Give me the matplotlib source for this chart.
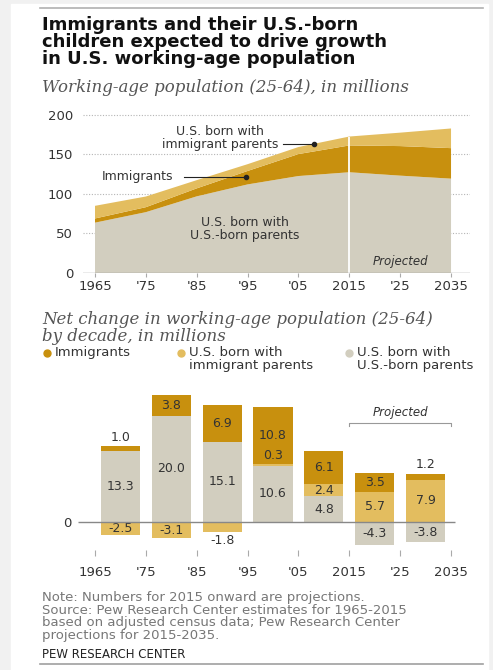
import matplotlib.pyplot as plt
from matplotlib.patches import Rectangle

# working-age population (25-64), millions
years = [1965, 1975, 1985, 1995, 2005, 2015, 2025, 2035]
us_born_parents = [63.7, 77.0, 97.0, 112.1, 122.7, 127.5, 123.2, 119.4]
immigrants = [5.3, 6.3, 10.1, 17.0, 27.8, 33.9, 37.4, 38.6]
immigrant_parents = [16.0, 13.5, 10.4, 8.6, 8.9, 11.3, 17.0, 24.9]

# net change by decade
decades = [1970, 1980, 1990, 2000, 2010, 2020, 2030]
chg_imm = [1.0, 3.8, 6.9, 10.8, 6.1, 3.5, 1.2]
chg_2nd = [-2.5, -3.1, -1.8, 0.3, 2.4, 5.7, 7.9]
chg_3rd = [13.3, 20.0, 15.1, 10.6, 4.8, -4.3, -3.8]

tick_years = [1965, 1975, 1985, 1995, 2005, 2015, 2025, 2035]
tick_labels = ['1965', "'75", "'85", "'95", "'05", '2015', "'25", '2035']

c_imm = '#c8900e'
c_2nd = '#e3bd5f'
c_3rd = '#d2cebf'
txt = '#333333'

W, H = 493, 670
fig = plt.figure(figsize=(W / 100, H / 100), dpi=100, facecolor='#f1f1f1')
plt.rcParams['font.family'] = ['DejaVu Sans']


def box(l, t, r, b):
    return [l / W, 1 - b / H, (r - l) / W, (b - t) / H]


# white card
ov = fig.add_axes([0, 0, 1, 1], zorder=-1)
ov.set_xlim(0, W)
ov.set_ylim(H, 0)
ov.axis('off')
ov.add_patch(Rectangle((11, 4), 477, 670, color='white'))
ov.plot([40, 483], [7.5, 7.5], color='#b0b0b0', lw=1.2)
ov.plot([40, 483], [664, 664], color='#a0a0a0', lw=1.2)

# titles
fig.text(42 / W, 1 - 16 / H, 'Immigrants and their U.S.-born\nchildren expected to drive growth\nin U.S. working-age population',
         fontsize=13, fontweight='bold', color='#111111', va='top', ha='left', linespacing=0.93)
fig.text(42 / W, 1 - 87 / H, 'Working-age population (25-64), in millions', fontsize=12,
         family='DejaVu Serif', style='italic', color='#555555', va='center')

# ---- top area chart ----
ax = fig.add_axes(box(83, 111, 470, 273))
ax.stackplot(years, us_born_parents, immigrants, immigrant_parents,
             colors=[c_3rd, c_imm, c_2nd], lw=0, zorder=2)
tot_2015 = us_born_parents[5] + immigrants[5] + immigrant_parents[5]
ax.vlines(2015, 0, tot_2015, color='white', lw=1.3, zorder=3)
ax.set_xlim(1962.64, 2038.73)
ax.set_ylim(0, 205)
for g in [50, 100, 150, 200]:
    ax.axhline(g, color='#b5b5b5', lw=0.8, ls=(0, (1, 1.5)), zorder=1)
ax.axhline(0, color='#999999', lw=1, zorder=4)
for s in ax.spines.values():
    s.set_visible(False)
ax.set_yticks([0, 50, 100, 150, 200])
ax.tick_params(axis='y', length=0, pad=7, labelsize=9.5, labelcolor=txt)
ax.set_xticks(tick_years)
ax.set_xticklabels(tick_labels)
ax.tick_params(axis='x', length=3, color='#aaaaaa', pad=2, labelsize=9.5, labelcolor=txt)

ax.text(1989.6, 171, 'U.S. born with\nimmigrant parents', ha='center', va='center',
        fontsize=9, color=txt, linespacing=1.0, zorder=5)
ax.plot([2002, 2008], [163, 163], color='#222222', lw=0.8, zorder=5)
ax.plot(2008, 163, 'o', color='#222222', ms=3, zorder=5)
ax.text(1973.3, 122, 'Immigrants', ha='center', va='center', fontsize=9, color=txt, zorder=5)
ax.plot([1982.5, 1994.7], [122, 122], color='#222222', lw=0.8, zorder=5)
ax.plot(1994.7, 122, 'o', color='#222222', ms=3, zorder=5)
ax.text(1994.5, 56, 'U.S. born with\nU.S.-born parents', ha='center', va='center',
        fontsize=9, color=txt, linespacing=1.0, zorder=5)
ax.text(2025, 15, 'Projected', ha='center', va='center', fontsize=8.5, style='italic', color=txt, zorder=5)

# ---- second subtitle and legend ----
fig.text(42 / W, 1 - 328 / H, 'Net change in working-age population (25-64)\nby decade, in millions',
         fontsize=12, family='DejaVu Serif', style='italic', color='#555555', va='center', linespacing=0.95)

leg = [('Immigrants', c_imm, 47), ('U.S. born with\nimmigrant parents', c_2nd, 181),
       ('U.S. born with\nU.S.-born parents', c_3rd, 349)]
for label, col, x in leg:
    ov.plot(x, 353, 'o', color=col, ms=5, zorder=3)
    ov.text(x + 8, 346, label, fontsize=9.5, color=txt, va='top', ha='left', linespacing=1.0)

# ---- bar chart ----
bx = fig.add_axes(box(78, 385, 470, 556))
bw = 7.7
for i, d in enumerate(decades):
    pos, neg = 0, 0
    segs = [(chg_3rd[i], c_3rd), (chg_2nd[i], c_2nd), (chg_imm[i], c_imm)]
    n_pos = sum(1 for v, c in segs if v > 0)
    k = 0
    for v, col in segs:
        if v > 0:
            bx.bar(d, v, bw, bottom=pos, color=col, lw=0, zorder=2)
            k += 1
            if abs(v) < 2 and k == n_pos:
                bx.text(d, pos + v + 0.4, f'{v:.1f}', ha='center', va='bottom', fontsize=9, color=txt)
            elif abs(v) < 2:
                bx.text(d, pos + v + 0.3, f'{v:.1f}', ha='center', va='bottom', fontsize=9, color=txt)
            else:
                bx.text(d, pos + v / 2, f'{v:.1f}', ha='center', va='center', fontsize=9, color=txt)
            pos += v
        else:
            bx.bar(d, v, bw, bottom=neg, color=col, lw=0, zorder=2)
            if abs(v) < 2:
                bx.text(d, neg + v - 0.4, f'{v:.1f}', ha='center', va='top', fontsize=9, color=txt)
            else:
                bx.text(d, neg + v / 2, f'{v:.1f}', ha='center', va='center', fontsize=9, color=txt)
            neg += v

bx.set_xlim(1961.66, 2038.73)
bx.set_ylim(-6.39, 25.75)
bx.hlines(0, 1961.66, 2035.8, color='#888888', lw=1, zorder=3)
for s in bx.spines.values():
    s.set_visible(False)
bx.set_yticks([0])
bx.tick_params(axis='y', length=0, pad=5, labelsize=9.5, labelcolor=txt)
bx.set_xticks(tick_years)
bx.set_xticklabels(tick_labels)
bx.tick_params(axis='x', direction='in', length=4, color='#aaaaaa', pad=7, labelsize=9.5, labelcolor=txt)

bx.plot([2015, 2015, 2035, 2035], [18.0, 18.6, 18.6, 18.0], color='#999999', lw=0.8)
bx.text(2025, 20.5, 'Projected', ha='center', va='center', fontsize=8.5, style='italic', color=txt)

# ---- notes ----
fig.text(42 / W, 1 - 591 / H, 'Note: Numbers for 2015 onward are projections.\n'
         'Source: Pew Research Center estimates for 1965-2015\n'
         'based on adjusted census data; Pew Research Center\n'
         'projections for 2015-2035.', fontsize=9.5, color='#777777', va='top', ha='left', linespacing=0.95)
fig.text(42 / W, 1 - 655 / H, 'PEW RESEARCH CENTER', fontsize=8.5, color='#222222', va='center', ha='left')

fig.savefig('out.png', dpi=100, facecolor=fig.get_facecolor())
